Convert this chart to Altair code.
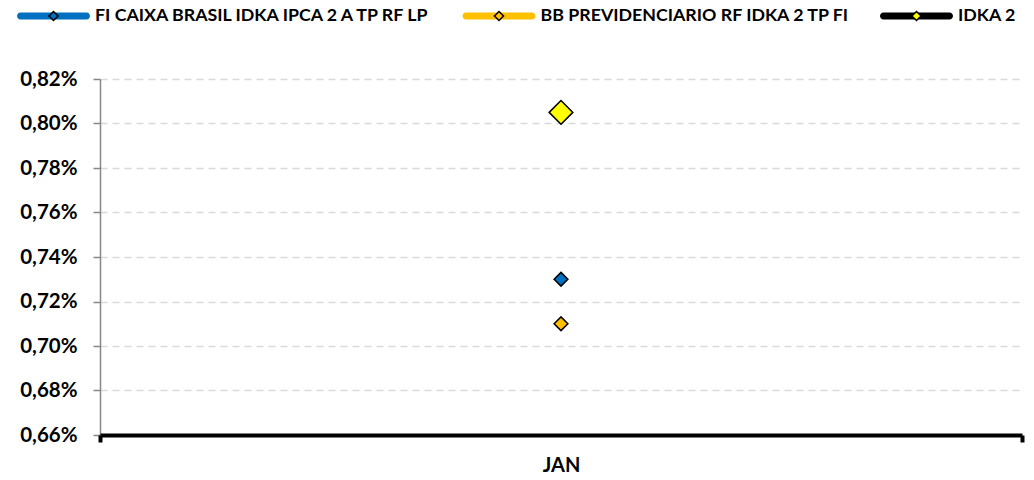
import altair as alt
import pandas as pd

# ---- data ----
months = ["JAN"]
series = [
    "FI CAIXA BRASIL IDKA IPCA 2 A TP RF LP",
    "BB PREVIDENCIARIO RF IDKA 2 TP FI",
    "IDKA 2",
]
jan_values = [0.73, 0.71, 0.805]  # percent
y_ticks = [0.66, 0.68, 0.70, 0.72, 0.74, 0.76, 0.78, 0.80, 0.82]

# ---- styles ----
line_colors = ["#0070C0", "#FFC000", "#000000"]
marker_colors = ["#0070C0", "#FFC000", "#FFFF00"]
marker_sizes = [190, 190, 560]
FONT = "Lato"

df = pd.DataFrame({
    "month": [months[0]] * len(series),
    "series": series,
    "name": series,
    "value": jan_values,
})

LEG_X = -84
LEG_Y = -73
SYM = 5329  # 73px wide symbol box
legend_common = dict(
    orient="none", legendX=LEG_X, legendY=LEG_Y, direction="horizontal",
    columns=3, title=None, symbolSize=SYM, columnPadding=28.5, labelOffset=4,
    labelFont=FONT, labelFontSize=17.8, labelFontWeight="bold", labelLimit=0,
    padding=0, symbolOpacity=1, symbolStrokeWidth=1.5, clipHeight=20,
)
# rounded thick line (filled) + degenerate points so both legend symbols share bounds
LINE_PATH = ("M-0.904,-0.096L0.904,-0.096A0.096,0.096 0 0 1 0.904,0.096"
             "L-0.904,0.096A0.096,0.096 0 0 1 -0.904,-0.096Z"
             "M-1,0L-1,0M1,0L1,0M0,-0.125L0,-0.125M0,0.125L0,0.125")
DIAMOND_PATH = ("M-1,0L-1,0M1,0L1,0"
                "M0,-0.125L0.125,0L0,0.125L-0.125,0Z")

x_enc = alt.X(
    "month:N", sort=months,
    scale=alt.Scale(paddingInner=0, paddingOuter=0),
    axis=alt.Axis(
        title=None, labelAngle=0, domainColor="black", domainWidth=4,
        ticks=True, tickBand="extent", tickSize=7, tickWidth=4, tickColor="black",
        labelFont=FONT, labelFontSize=20, labelFontWeight="bold", labelColor="black",
        labelPadding=13, zindex=1, grid=False,
    ),
)
y_enc = alt.Y(
    "value:Q",
    scale=alt.Scale(domain=[0.66, 0.82], nice=False, zero=False),
    axis=alt.Axis(
        title=None, values=y_ticks,
        labelExpr="replace(format(datum.value, '.2f'), '.', ',') + '%'",
        labelFont=FONT, labelFontSize=20.5, labelFontWeight="bold", labelColor="black",
        labelPadding=16, tickSize=7, tickColor="#868686", tickWidth=1.5,
        domainColor="#868686", domainWidth=1.5,
        grid=True, gridColor="#D9D9D9", gridDash=[7, 5], gridWidth=1.5,
    ),
)

# series line colours (legend lines); a single month draws no visible line
series_lines = alt.Chart(df).mark_point(filled=True, size=0, opacity=0).encode(
    x=x_enc, y=y_enc,
    color=alt.Color(
        "name:N", sort=series, scale=alt.Scale(range=line_colors),
        legend=alt.Legend(symbolType=LINE_PATH, symbolStrokeColor="transparent",
                          labelColor="black", **legend_common),
    ),
)

points = alt.Chart(df).mark_point(
    shape="diamond", filled=True, stroke="black", strokeWidth=1.5, opacity=1
).encode(
    x=x_enc, y=y_enc,
    fill=alt.Fill(
        "series:N", sort=series, scale=alt.Scale(range=marker_colors),
        legend=alt.Legend(symbolType=DIAMOND_PATH, symbolStrokeColor="black",
                          labelColor="transparent", **legend_common),
    ),
    size=alt.Size("series:N",
                  scale=alt.Scale(type="ordinal", domain=series, range=marker_sizes),
                  legend=None),
)

chart = alt.layer(series_lines, points).properties(
    width=922, height=356,
    autosize=alt.AutoSizeParams(type="none"),
    padding={"left": 92, "top": 71, "right": 4, "bottom": 37},
    background="white",
).configure_view(stroke=None)

chart.save("out.html", embed_options={"renderer": "svg", "actions": False})
